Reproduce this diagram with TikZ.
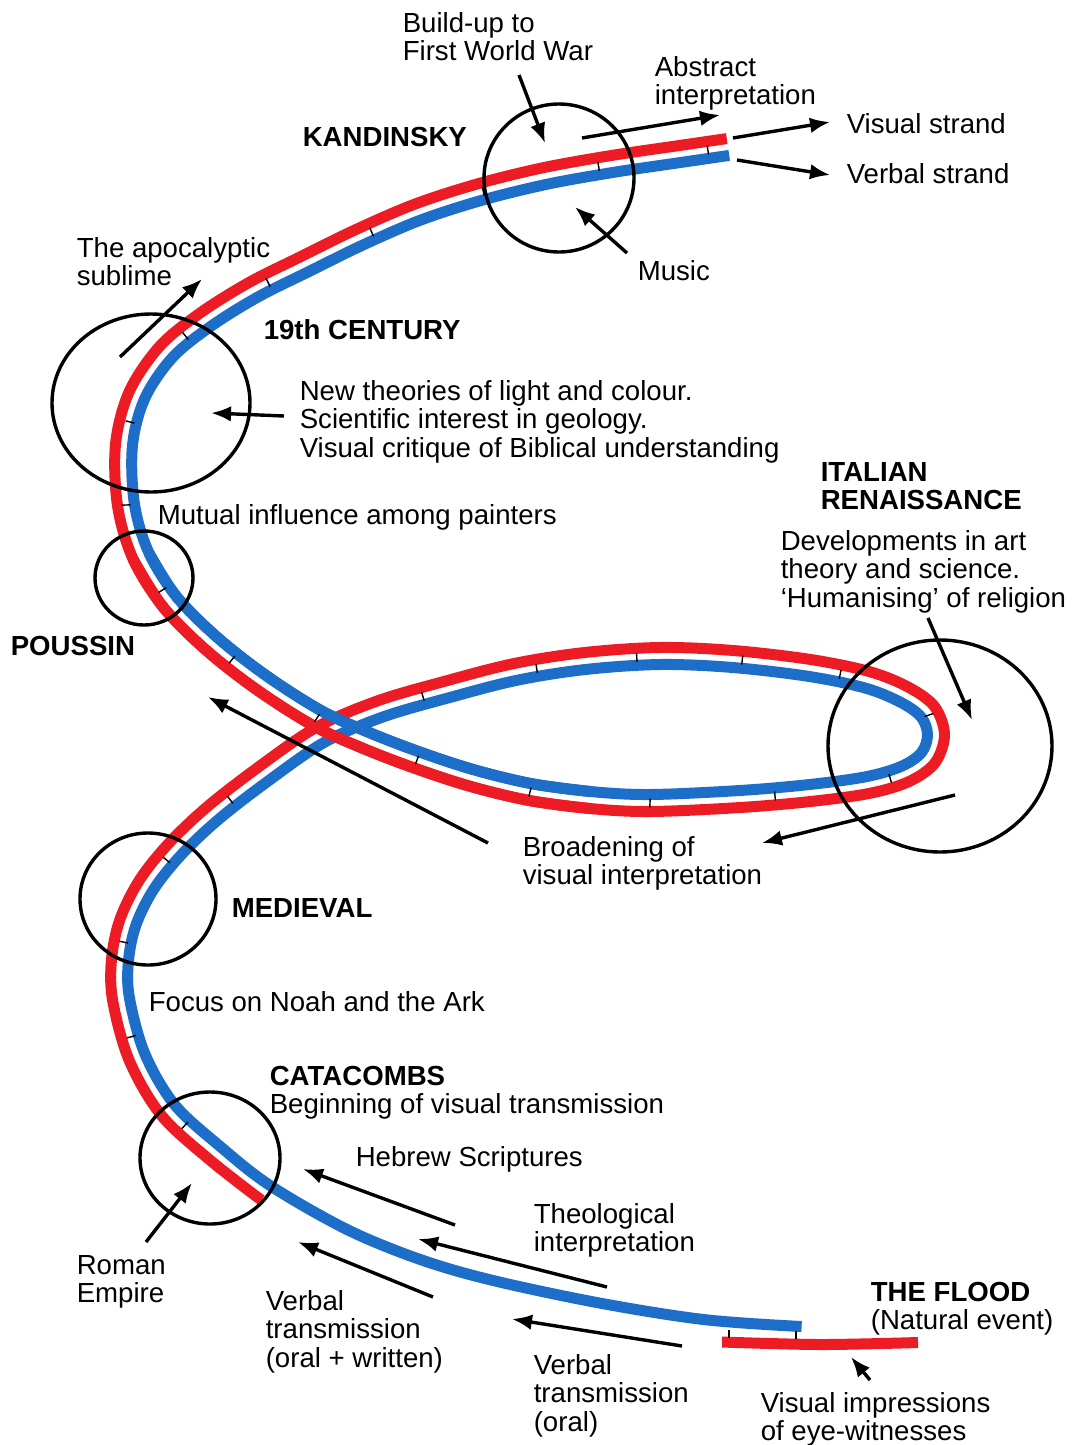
\documentclass[tikz,border=0pt]{standalone}
\usepackage{fontspec}
\setmainfont{Liberation Sans}
\usetikzlibrary{arrows.meta,shapes.geometric,calc}
\definecolor{strandred}{RGB}{237,28,36}
\definecolor{strandblue}{RGB}{28,110,200}
% one picture unit (px of the reference) = 0.25pt
\newcommand\tickon[3]{\draw[tickmark] ($(c#1)!#3!(c#2)!1.125pt!90:(c#2)$) -- ($(c#1)!#3!(c#2)!1.125pt!-90:(c#2)$);}
\newcommand\topstrut{\rule{0pt}{5.05pt}}
\begin{document}
\begin{tikzpicture}[x=0.25pt,y=-0.25pt,
  ring/.style={draw=black, line width=0.85pt, ellipse, inner sep=0pt, outer sep=0pt},
  lbl/.style={font=\fontsize{6.9}{7.125}\selectfont, align=left, anchor=north west, inner sep=0pt},
  hd/.style={lbl, font=\fontsize{6.9}{7.125}\selectfont\bfseries},
  arr/.style={draw=black, line width=0.85pt, -{Latex[length=5pt,width=3.9pt]}},
  tickmark/.style={line width=0.35pt, black},
  bluestrand/.style={draw=strandblue, line width=2.75pt, line join=round},
  redstrand/.style={draw=strandred, line width=2.75pt, line join=round}]
\fill[white] (0,0) rectangle (1077,1445);
\useasboundingbox (0,0) rectangle (1077,1445);

% centre line of the two strands
\foreach \x/\y [count=\k] in {801/1335, 703/1328, 596/1311, 488/1288, 416/1267, 343/1237, 266/1193, 216/1154, 168/1110, 137/1057, 121/999, 120/960, 128/922, 147/884, 176/848, 213/813, 262/775, 320/735, 380/709, 445/690, 515/672, 585/661, 660/656, 733/659, 810/668, 868/680, 905/695, 928/712, 936/735, 928/758, 905/774, 868/785, 810/793, 740/799, 650/803, 590/800, 530/792, 472/778, 417/760, 365/740, 317/718, 262/683, 212/644, 170/602, 141/556, 126/505, 124/445, 137/395, 166/352, 205/320, 253/290, 305/264, 360/237, 418/212, 480/192, 545/176, 612/164, 680/154, 728/147}
  {\coordinate (c\k) at (\x,\y);}
% offset points: left (red) and right (blue)
\coordinate (rl1) at ($(c1)!2.125pt!90:(c2)$);
\coordinate (rr1) at ($(c1)!2.125pt!-90:(c2)$);
\foreach \k [evaluate=\k as \kp using int(\k-1), evaluate=\k as \kn using int(\k+1)] in {2,...,58}{
  \coordinate (hl\k) at ($(c\kp)!2.125pt!90:(c\kn)$);
  \coordinate (hr\k) at ($(c\kp)!2.125pt!-90:(c\kn)$);
  \coordinate (rl\k) at ($(c\k)+(hl\k)-(c\kp)$);
  \coordinate (rr\k) at ($(c\k)+(hr\k)-(c\kp)$);
}
\coordinate (hl59) at ($(c58)!2.125pt!90:(c59)$);
\coordinate (hr59) at ($(c58)!2.125pt!-90:(c59)$);
\coordinate (rl59) at ($(c59)+(hl59)-(c58)$);
\coordinate (rr59) at ($(c59)+(hr59)-(c58)$);

\gdef\bluepts{}\foreach \k in {1,...,59}{\xdef\bluepts{\bluepts (rr\k)}}
\gdef\redpts{}\foreach \k in {7,...,59}{\xdef\redpts{\redpts (rl\k)}}
\gdef\bluedpts{}\foreach \k in {36,...,45}{\xdef\bluedpts{\bluedpts (rr\k)}}
\gdef\reddpts{}\foreach \k in {36,...,45}{\xdef\reddpts{\reddpts (rl\k)}}
\xdef\bluepath{plot[smooth,tension=0.55] coordinates {\bluepts}}
\xdef\redpath{plot[smooth,tension=0.55] coordinates {\redpts}}
\xdef\bluedpath{plot[smooth,tension=0.55] coordinates {\bluedpts}}
\xdef\reddpath{plot[smooth,tension=0.55] coordinates {\reddpts}}

% the two strands (blue = verbal, red = visual)
\draw[bluestrand] \bluepath;
\draw[redstrand] \redpath;
\draw[bluestrand] \bluedpath;
\draw[redstrand] \reddpath;
\draw[redstrand] plot[smooth,tension=0.55] coordinates {(722,1342) (820,1344.5) (918,1342.5)};

% tick marks between the strands
\tickon{8}{9}{0.65}
\tickon{10}{11}{0.35}
\tickon{12}{13}{0.47}
\tickon{14}{15}{0.67}
\tickon{16}{17}{0.35}
\tickon{19}{20}{0.66}
\tickon{21}{22}{0.31}
\tickon{22}{23}{0.69}
\tickon{24}{25}{0.12}
\tickon{25}{26}{0.52}
\tickon{28}{29}{0.13}
\tickon{31}{32}{0.4}
\tickon{33}{34}{0.5}
\tickon{35}{36}{0}
\tickon{37}{38}{0}
\tickon{39}{40}{0}
\tickon{41}{42}{0}
\tickon{42}{43}{0.6}
\tickon{44}{45}{0.26}
\tickon{46}{47}{0}
\tickon{47}{48}{0.46}
\tickon{49}{50}{0.5}
\tickon{51}{52}{0.29}
\tickon{53}{54}{0.2}
\tickon{55}{56}{0.05}
\tickon{56}{57}{0.8}
\tickon{58}{59}{0.58}
\draw[tickmark] (729,1330) -- (729,1338);
\draw[tickmark] (796,1331) -- (796,1339);

% circles
\node[ring, minimum width=37.5pt, minimum height=37pt] (ckand) at (559,178) {};
\node[ring, minimum width=49.5pt, minimum height=44.5pt] (cnine) at (151,403) {};
\node[ring, minimum width=24.5pt, minimum height=23.5pt] (cpous) at (144,578) {};
\node[ring, minimum width=34pt, minimum height=33pt] (cmed) at (148,899) {};
\node[ring, minimum width=35pt, minimum height=33pt] (ccata) at (210,1158) {};
\node[ring, minimum width=56pt, minimum height=53pt] (cital) at (940,746) {};

% labels
\node[lbl] (lBuild) at (402,11) {\topstrut Build-up to\\First World War};
\node[lbl] (lAbstract) at (654,55) {\topstrut Abstract\\interpretation};
\node[hd] (lKand) at (302,125) {\topstrut KANDINSKY};
\node[lbl] (lVisual) at (846,112) {\topstrut Visual strand};
\node[lbl] (lVerbal) at (846,162) {\topstrut Verbal strand};
\node[lbl] (lApoc) at (76,236) {\topstrut The apocalyptic\\sublime};
\node[lbl] (lMusic) at (637,259) {\topstrut Music};
\node[hd] (lNine) at (263,318) {\topstrut 19th CENTURY};
\node[lbl] (lTheories) at (299,379) {\topstrut New theories of light and colour.\\Scientific interest in geology.\\Visual critique of Biblical understanding};
\node[hd] (lItal) at (820,460) {\topstrut ITALIAN\\RENAISSANCE};
\node[lbl] (lMutual) at (157,503) {\topstrut Mutual influence among painters};
\node[lbl] (lDevel) at (780,529) {\topstrut Developments in art\\theory and science.\\‘Humanising’ of religion};
\node[hd] (lPous) at (10,634) {\topstrut POUSSIN};
\node[lbl] (lBroad) at (522,835) {\topstrut Broadening of\\visual interpretation};
\node[hd] (lMed) at (231,896) {\topstrut MEDIEVAL};
\node[lbl] (lFocus) at (148,990) {\topstrut Focus on Noah and the Ark};
\node[lbl] (lCata) at (269,1064) {\topstrut\textbf{CATACOMBS}\\Beginning of visual transmission};
\node[lbl] (lHebrew) at (355,1145) {\topstrut Hebrew Scriptures};
\node[lbl] (lTheo) at (533,1202) {\topstrut Theological\\interpretation};
\node[lbl] (lRoman) at (76,1253) {\topstrut Roman\\Empire};
\node[lbl] (lVTOW) at (265,1289) {\topstrut Verbal\\transmission\\(oral + written)};
\node[lbl] (lFlood) at (870,1280) {\topstrut\textbf{THE FLOOD}\\(Natural event)};
\node[lbl] (lVTO) at (533,1353) {\topstrut Verbal\\transmission\\(oral)};
\node[lbl] (lEye) at (760,1391) {\topstrut Visual impressions\\of eye-witnesses};

% arrow end points
\coordinate (tBuild) at (519,75);   \coordinate (hBuild) at (545,143);
\coordinate (tAbs) at (582,138);    \coordinate (hAbs) at (720,115);
\coordinate (tVis) at (733,138);    \coordinate (hVis) at (830,122);
\coordinate (tVer) at (737,160);    \coordinate (hVer) at (830,175);
\coordinate (tMus) at (627,253);    \coordinate (hMus) at (575,207);
\coordinate (tApo) at (120,357);    \coordinate (hApo) at (202,279);
\coordinate (tNin) at (284,416);    \coordinate (hNin) at (211,413);
\coordinate (tIta) at (928,618);    \coordinate (hIta) at (972,720);
\coordinate (tBrA) at (955,795);    \coordinate (hBrA) at (762,843);
\coordinate (tBrB) at (488,843);    \coordinate (hBrB) at (208,697);
\coordinate (tHeb) at (455,1225);   \coordinate (hHeb) at (303,1169);
\coordinate (tThe) at (607,1287);   \coordinate (hThe) at (418,1239);
\coordinate (tVow) at (433,1297);   \coordinate (hVow) at (298,1242);
\coordinate (tVor) at (682,1346);   \coordinate (hVor) at (512,1319);
\coordinate (tRom) at (146,1242);   \coordinate (hRom) at (192,1183);
\coordinate (tEye) at (870,1380);   \coordinate (hEye) at (851,1357);

\draw[arr] (tBuild) -- (hBuild);
\draw[arr] (tAbs) -- (hAbs);
\draw[arr] (tVis) -- (hVis);
\draw[arr] (tVer) -- (hVer);
\draw[arr] (tMus) -- (hMus);
\draw[arr] (tApo) -- (hApo);
\draw[arr] (tNin) -- (hNin);
\draw[arr] (tIta) -- (hIta);
\draw[arr] (tBrA) -- (hBrA);
\draw[arr] (tBrB) -- (hBrB);
\draw[arr] (tHeb) -- (hHeb);
\draw[arr] (tThe) -- (hThe);
\draw[arr] (tVow) -- (hVow);
\draw[arr] (tVor) -- (hVor);
\draw[arr] (tRom) -- (hRom);
\draw[arr] (tEye) -- (hEye);
\end{tikzpicture}
\end{document}
